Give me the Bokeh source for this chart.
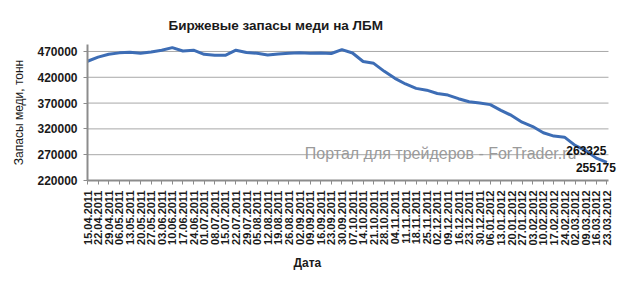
import math
from bokeh.plotting import figure
from bokeh.models import Range1d, FixedTicker, Label, Title, NumeralTickFormatter
from bokeh.embed import file_html
from bokeh.resources import INLINE

dates = ["15.04.2011", "22.04.2011", "29.04.2011", "06.05.2011", "13.05.2011", "20.05.2011",
         "27.05.2011", "03.06.2011", "10.06.2011", "17.06.2011", "24.06.2011", "01.07.2011",
         "08.07.2011", "15.07.2011", "22.07.2011", "29.07.2011", "05.08.2011", "12.08.2011",
         "19.08.2011", "26.08.2011", "02.09.2011", "09.09.2011", "16.09.2011", "23.09.2011",
         "30.09.2011", "07.10.2011", "14.10.2011", "21.10.2011", "28.10.2011", "04.11.2011",
         "11.11.2011", "18.11.2011", "25.11.2011", "02.12.2011", "09.12.2011", "16.12.2011",
         "23.12.2011", "30.12.2011", "06.01.2012", "13.01.2012", "20.01.2012", "27.01.2012",
         "03.02.2012", "10.02.2012", "17.02.2012", "24.02.2012", "02.03.2012", "09.03.2012",
         "16.03.2012", "23.03.2012"]

stocks = [451000, 459000, 464500, 467300, 468500, 466500, 469000, 472500, 477500, 471000,
          472500, 464500, 462500, 462500, 472500, 468000, 466500, 463000, 465000, 466500,
          467500, 466500, 467000, 466000, 473500, 467000, 450500, 447000, 431500, 418000,
          407000, 398500, 395000, 388500, 385500, 378500, 372500, 370000, 367000, 356000,
          346000, 333000, 324500, 312500, 306000, 304000, 288000, 278000, 263325, 255175]

y_ticks = [220000, 270000, 320000, 370000, 420000, 470000]

title_text = "Биржевые запасы меди на ЛБМ"
y_title = "Запасы меди, тонн"
x_title = "Дата"
watermark = "Портал для трейдеров - ForTrader.ru"

FONT = "Liberation Sans"
idx = list(range(len(dates)))
n = len(dates)
axis_end = (n - 1) + 0.15   # plot area edge, just past the last category

p = figure(width=620, height=281, output_backend="svg", toolbar_location=None,
           x_range=Range1d(0, n), y_range=Range1d(220000, 483500),
           min_border_left=87, min_border_right=3, min_border_top=44, min_border_bottom=101)
p.outline_line_color = None
p.background_fill_color = "white"
p.border_fill_color = "white"

p.title = Title(text=title_text, align="left", offset=81, text_font=FONT,
                text_font_size="13.5px", text_font_style="bold", text_color="#1a1a1a",
                standoff=23)

# y axis
p.yaxis.ticker = FixedTicker(ticks=y_ticks)
p.yaxis.formatter = NumeralTickFormatter(format="0")
p.yaxis.axis_label = y_title
p.yaxis.axis_label_text_font = FONT
p.yaxis.axis_label_text_font_size = "12px"
p.yaxis.axis_label_text_font_style = "normal"
p.yaxis.axis_label_text_color = "#1a1a1a"
p.yaxis.axis_label_standoff = 8
p.yaxis.major_label_text_font = FONT
p.yaxis.major_label_text_font_size = "12px"
p.yaxis.major_label_text_font_style = "bold"
p.yaxis.major_label_text_color = "#1a1a1a"
p.yaxis.major_label_standoff = 6
p.yaxis.axis_line_color = "#8c8c8c"
p.yaxis.axis_line_width = 2
p.yaxis.major_tick_line_color = "#8c8c8c"
p.yaxis.major_tick_out = 4
p.yaxis.major_tick_in = 0
p.yaxis.minor_tick_line_color = None

# x axis
p.xaxis.ticker = FixedTicker(ticks=idx)
p.xaxis.bounds = (0, axis_end)
p.xaxis.major_label_overrides = {i: d for i, d in zip(idx, dates)}
p.xaxis.major_label_orientation = math.pi / 2
p.xaxis.major_label_text_font = FONT
p.xaxis.major_label_text_font_size = "11px"
p.xaxis.major_label_text_font_style = "bold"
p.xaxis.major_label_text_color = "#1a1a1a"
p.xaxis.major_label_standoff = 6
p.xaxis.axis_line_color = "#8c8c8c"
p.xaxis.axis_line_width = 2
p.xaxis.major_tick_line_color = "#8c8c8c"
p.xaxis.major_tick_out = 4
p.xaxis.major_tick_in = 0
p.xaxis.minor_tick_line_color = None

p.add_layout(Title(text=x_title, align="left", offset=206, text_font=FONT,
                   text_font_size="12px", text_font_style="bold", text_color="#1a1a1a"),
             "below")

# horizontal gridlines limited to the plot area
p.xgrid.grid_line_color = None
p.ygrid.grid_line_color = None
grid_vals = y_ticks[1:]
p.segment(x0=[0] * len(grid_vals), x1=[axis_end] * len(grid_vals), y0=grid_vals, y1=grid_vals,
          line_color="#a8a8a8", line_width=1, level="underlay")

p.add_layout(Label(x=20.5, y=272300, text=watermark, text_font=FONT, text_font_size="16px",
                   text_color="#9a9a9a", text_baseline="middle", text_align="left",
                   level="underlay"))

p.line(x=idx, y=stocks, line_color="#3d6db5", line_width=3)

p.add_layout(Label(x=idx[-2], y=stocks[-2], text=str(stocks[-2]), x_offset=-10, y_offset=3,
                   text_font=FONT, text_font_size="12px", text_font_style="bold",
                   text_color="#111111", text_align="center", text_baseline="bottom"))
p.add_layout(Label(x=idx[-1], y=stocks[-1], text=str(stocks[-1]), x_offset=-11, y_offset=-1,
                   text_font=FONT, text_font_size="12px", text_font_style="bold",
                   text_color="#111111", text_align="center", text_baseline="top"))

open("out.html", "w").write(file_html(p, INLINE))
